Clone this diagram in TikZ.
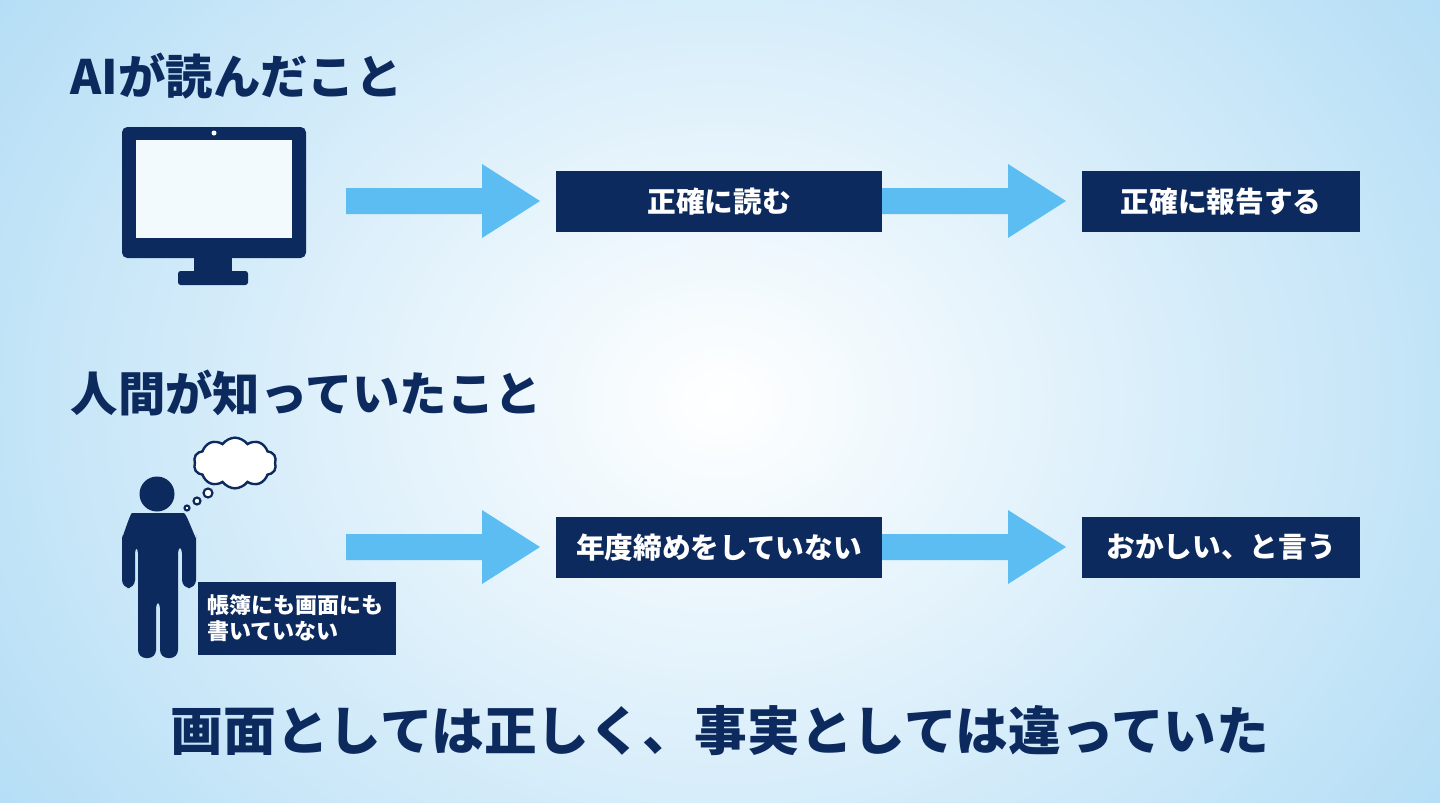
\documentclass[tikz,border=0pt]{standalone}
\usepackage{fontspec}
\setmainfont{Noto Sans CJK JP}
\usetikzlibrary{shapes.symbols}
\definecolor{navy}{HTML}{0C2A5E}
\definecolor{sky}{HTML}{5BBDF1}
\definecolor{edge}{HTML}{A8D8F4}
\begin{document}
\begin{tikzpicture}[x=0.75pt,y=-0.75pt,
  box/.style={fill=navy,text=white,font=\fontsize{21.5}{24}\selectfont\bfseries,inner sep=0},
  arr/.style={fill=sky,draw=none},
  title/.style={font=\fontsize{35.5}{40}\selectfont\bfseries,text=navy,anchor=west}]
\useasboundingbox (0,0) rectangle (1440,803);
\begin{scope}
\clip (0,0) rectangle (1440,803);
\shade[inner color=white,outer color=edge] (-300,-450) rectangle (1740,1253);
\end{scope}
% titles
\node[title] (t1) at (66,76) {AIが読んだこと};
\node[title] (t2) at (66,393) {人間が知っていたこと};
% monitor
\fill[navy,rounded corners=4pt] (122,127) rectangle (306,258);
\fill[white!92!sky] (136,140) rectangle (292,238);
\fill[white] (214,133) circle (2.5);
\fill[navy] (194,256) rectangle (232,273);
\fill[navy,rounded corners=2pt] (178,271) rectangle (248,285);
% arrows as shapes
\newcommand\myarrow[3]{%
  \fill[arr] (#1,#3-13) -- (#2-58,#3-13) -- (#2-58,#3-37) -- (#2,#3) -- (#2-58,#3+37) -- (#2-58,#3+13) -- (#1,#3+13) -- cycle;}
\myarrow{346}{540}{201}
\myarrow{882}{1066}{201}
\myarrow{346}{540}{547}
\myarrow{882}{1066}{547}
% boxes
\node[box,minimum width=244.5pt,minimum height=46pt] (b1) at (719,201.5) {正確に読む};
\node[box,minimum width=208.5pt,minimum height=46pt] (b2) at (1221,201.5) {正確に報告する};
\node[box,minimum width=244.5pt,minimum height=46pt] (b3) at (719,547.5) {年度締めをしていない};
\node[box,minimum width=208.5pt,minimum height=46pt] (b4) at (1221,547.5) {おかしい、と言う};
% person
\fill[navy] (157,494) circle (17.5);
\fill[navy,rounded corners=6pt] (122,588) -- (122,530) to[out=-90,in=180] (140,513) -- (176,513) to[out=0,in=-90] (196,530) -- (196,588) -- (182,588) -- (182,545) -- (178,545) -- (178,658) -- (160,658) -- (160,600) -- (156,600) -- (156,658) -- (138,658) -- (138,545) -- (135,545) -- (135,588) -- cycle;
\draw[navy,line width=1.6pt,fill=white] (187,508) circle (2.5) (197,501) circle (3.5) (208,493) circle (4.5);
\node[cloud,cloud puffs=10,cloud puff arc=110,aspect=1.6,draw=navy,line width=1.8pt,fill=white,minimum width=62pt,minimum height=38pt] (cl) at (235,463) {};
% small box
\node[fill=navy,minimum width=148.5pt,minimum height=55pt,inner sep=0] (sb) at (297,618.5) {};
\node[anchor=west,text=white,font=\fontsize{16.5}{20}\selectfont\bfseries,align=left,inner sep=0] (sbt) at (207,618) {帳簿にも画面にも\\書いていない};
% bottom
\node[font=\fontsize{39.5}{44}\selectfont\bfseries,text=navy] (bt) at (720,731) {画面としては正しく、事実としては違っていた};
\end{tikzpicture}
\end{document}
